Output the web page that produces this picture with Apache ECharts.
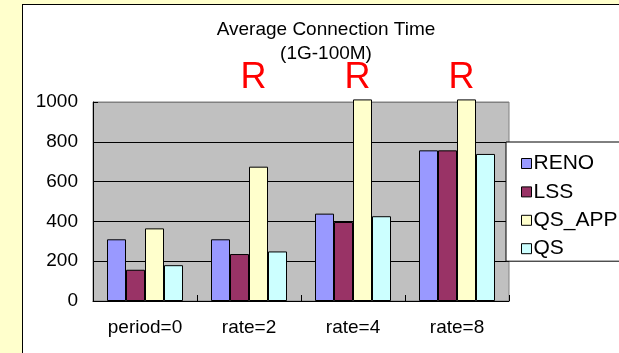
<!DOCTYPE html>
<html>
<head>
<meta charset="utf-8">
<script src="https://cdn.jsdelivr.net/npm/echarts@6/dist/echarts.min.js"></script>
<style>
  html, body { margin: 0; padding: 0; width: 619px; height: 353px; overflow: hidden; background: #FFFFCC; }
  #frame { position: absolute; left: 22px; top: 4px; width: 700px; height: 400px; background: #fff; border: 1px solid #000; }
  #chart { position: absolute; left: 0; top: 0; width: 619px; height: 353px; }
</style>
</head>
<body>
<div id="frame"></div>
<div id="chart"></div>
<script>
const categories = ['period=0', 'rate=2', 'rate=4', 'rate=8'];
const renoValues = [310, 310, 439, 757];
const lssValues = [157, 236, 397, 757];
const qsAppValues = [365, 675, 1013, 1013];
const qsValues = [180, 249, 426, 739];
const seriesNames = ['RENO', 'LSS', 'QS_APP', 'QS'];
const seriesColors = ['#9999FF', '#993366', '#FFFFCC', '#CCFFFF'];
const yMin = 0, yMax = 1000, yInterval = 200;
const rMarkCategories = ['rate=2', 'rate=4', 'rate=8'];
const titleLines = ['Average Connection Time', '(1G-100M)'];

const FONT = 'Liberation Sans, Arial, sans-serif';
const chart = echarts.init(document.getElementById('chart'), null, { renderer: 'canvas' });

const allValues = [renoValues, lssValues, qsAppValues, qsValues];
const series = seriesNames.map((name, i) => {
  const s = {
    name: name,
    type: 'bar',
    data: allValues[i],
    barWidth: 19,
    barGap: '0%',
    clip: false,
    itemStyle: { color: seriesColors[i], borderColor: '#000', borderWidth: 1 }
  };
  if (name === 'QS_APP') {
    s.markPoint = {
      symbol: 'rect',
      symbolSize: 0,
      silent: true,
      label: {
        show: true,
        position: 'inside',
        formatter: 'R',
        color: '#FF0000',
        fontSize: 36,
        fontFamily: FONT,
        offset: [-5, -24]
      },
      data: rMarkCategories.map(c => ({ coord: [c, yMax] }))
    };
  }
  return s;
});

chart.setOption({
  backgroundColor: 'transparent',
  animation: false,
  textStyle: { fontFamily: FONT },
  graphic: [
    { type: 'text', x: 326, y: 29.5, style: { text: titleLines[0], font: '19px ' + FONT, fill: '#000', textAlign: 'center', textVerticalAlign: 'middle' } },
    { type: 'text', x: 326, y: 54, style: { text: titleLines[1], font: '19px ' + FONT, fill: '#000', textAlign: 'center', textVerticalAlign: 'middle' } }
  ],
  grid: {
    left: 93, top: 102, right: 110, bottom: 52,
    show: true, backgroundColor: '#C0C0C0', borderColor: '#808080', borderWidth: 1
  },
  legend: {
    orient: 'vertical',
    left: 506, top: 142,
    padding: [11, 40, 2, 15],
    itemGap: 7.4,
    itemWidth: 10, itemHeight: 10,
    icon: 'rect',
    backgroundColor: '#fff',
    borderColor: '#000', borderWidth: 1,
    itemStyle: { borderColor: '#000', borderWidth: 1 },
    textStyle: { fontSize: 21, fontFamily: FONT, color: '#000', lineHeight: 20, padding: [0, 0, 0, -3] },
    data: seriesNames
  },
  xAxis: {
    type: 'category',
    data: categories,
    axisLine: { lineStyle: { color: '#000', width: 1 } },
    axisTick: { show: true, inside: true, length: 6, lineStyle: { color: '#000' } },
    axisLabel: { fontSize: 19, fontFamily: FONT, color: '#000', margin: 17 },
    splitLine: { show: false }
  },
  yAxis: {
    type: 'value',
    min: yMin, max: yMax, interval: yInterval,
    axisLine: { show: true, lineStyle: { color: '#000', width: 1 } },
    axisTick: { show: true, inside: true, length: 5, lineStyle: { color: '#000' } },
    axisLabel: { fontSize: 19, fontFamily: FONT, color: '#000', margin: 15, formatter: v => String(v) },
    splitLine: { show: true, lineStyle: { color: ['#000', '#000', '#000', '#000', '#000', '#808080'], width: 1 } }
  },
  series: series
});
</script>
</body>
</html>
